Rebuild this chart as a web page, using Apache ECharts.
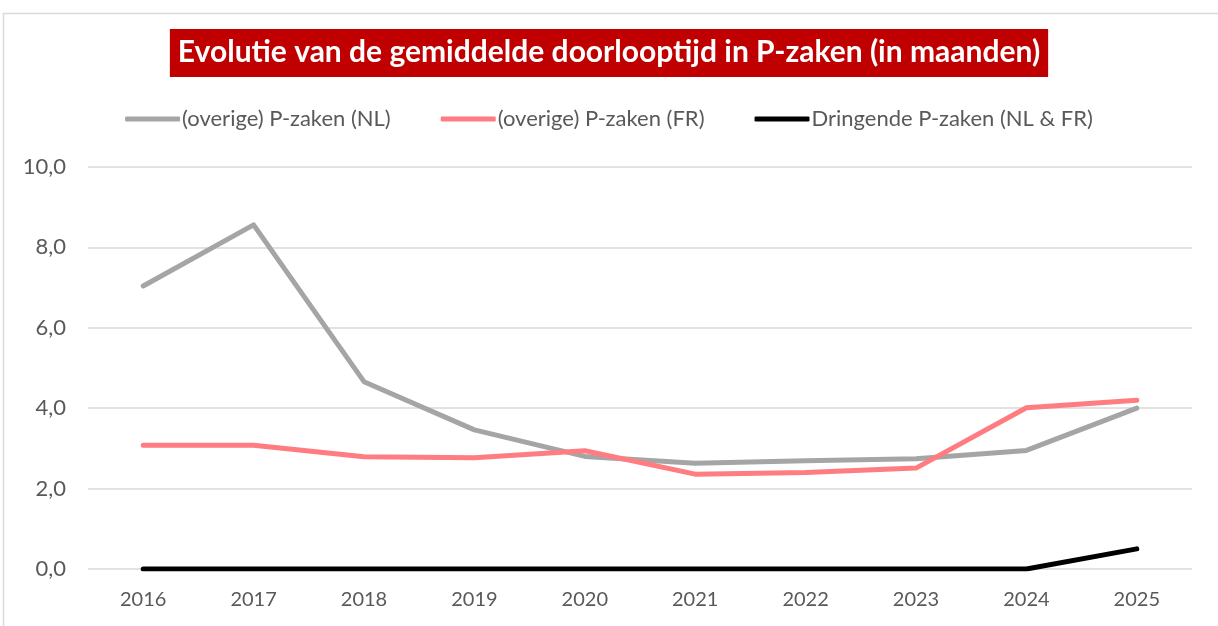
<!DOCTYPE html>
<html><head><meta charset="utf-8">
<script src="https://cdn.jsdelivr.net/npm/echarts@6/dist/echarts.min.js"></script>
<style>html,body{margin:0;padding:0;background:#fff}#c{width:1218px;height:626px}</style>
</head><body><div id="c"></div>
<script>
const years = ['2016','2017','2018','2019','2020','2021','2022','2023','2024','2025'];
const nlValues = [7.04, 8.56, 4.66, 3.46, 2.80, 2.63, 2.69, 2.74, 2.95, 4.00];
const frValues = [3.08, 3.08, 2.79, 2.77, 2.94, 2.36, 2.40, 2.51, 4.01, 4.20];
const urgentValues = [0, 0, 0, 0, 0, 0, 0, 0, 0, 0.50];
const seriesNames = ['(overige) P-zaken (NL)', '(overige) P-zaken (FR)', 'Dringende P-zaken (NL & FR)'];
const titleText = 'Evolutie van de gemiddelde doorlooptijd in P-zaken (in maanden)';

const FONT = 'Lato, "Open Sans", sans-serif';
const chart = echarts.init(document.getElementById('c'), null, {renderer: 'canvas'});
const mk = (name, data, color) => ({
  name, type: 'line', data, symbol: 'none', smooth: false,
  lineStyle: {color, width: 5, cap: 'round', join: 'round'},
  itemStyle: {color}
});
chart.setOption({
  animation: false,
  backgroundColor: '#fff',
  graphic: [{
    type: 'rect', shape: {x: 3.5, y: 13.5, width: 1230, height: 640},
    style: {fill: 'none', stroke: '#D9D9D9', lineWidth: 1.5}, silent: true
  }],
  title: {
    text: titleText, left: 'center', top: 29,
    backgroundColor: '#C00000', padding: [8, 8, 9, 8],
    textStyle: {color: '#fff', fontFamily: FONT, fontWeight: 'bold', fontSize: 30, lineHeight: 31}
  },
  legend: {
    top: 103, left: 'center', itemWidth: 55, itemHeight: 5, itemGap: 50,
    icon: 'roundRect',
    textStyle: {color: '#595959', fontFamily: FONT, fontSize: 22, padding: [0,0,0,-3]},
    data: seriesNames
  },
  grid: {left: 88, right: 26, top: 167, bottom: 57, containLabel: false},
  xAxis: {
    type: 'category', data: years, boundaryGap: true,
    axisLine: {show: false}, axisTick: {show: false},
    axisLabel: {color: '#595959', fontFamily: FONT, fontSize: 20, margin: 21}
  },
  yAxis: {
    type: 'value', min: 0, max: 10, interval: 2,
    axisLine: {show: false}, axisTick: {show: false},
    splitLine: {lineStyle: {color: '#D9D9D9', width: 1.5}},
    axisLabel: {color: '#595959', fontFamily: FONT, fontSize: 22, margin: 22,
      formatter: v => v.toFixed(1).replace('.', ',')}
  },
  series: [
    mk(seriesNames[0], nlValues, '#A5A5A5'),
    mk(seriesNames[1], frValues, '#FF7C80'),
    mk(seriesNames[2], urgentValues, '#000000')
  ]
});
</script></body></html>
